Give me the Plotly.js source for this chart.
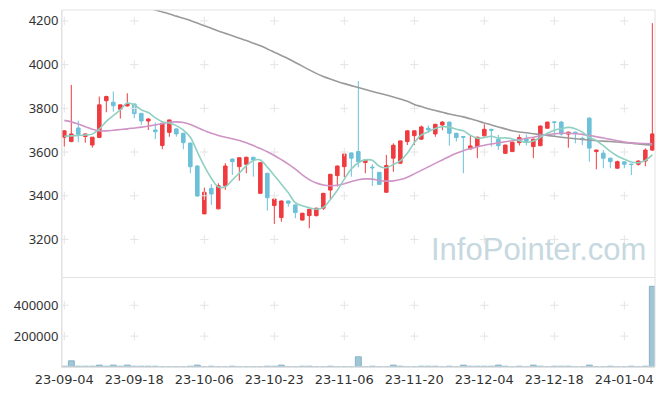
<!DOCTYPE html>
<html><head><meta charset="utf-8">
<script src="https://cdn.plot.ly/plotly-3.0.1.min.js"></script>
<style>html,body{margin:0;padding:0;background:#fff}#c{width:665px;height:396px}</style>
</head><body><div id="c"></div>
<script>
const dates = ["23-09-04","23-09-05","23-09-06","23-09-07","23-09-08","23-09-11","23-09-12","23-09-13","23-09-14","23-09-15",
"23-09-18","23-09-19","23-09-20","23-09-21","23-09-22","23-09-25","23-09-26","23-09-27","23-10-04","23-10-05",
"23-10-06","23-10-10","23-10-11","23-10-12","23-10-13","23-10-16","23-10-17","23-10-18","23-10-19","23-10-20",
"23-10-23","23-10-24","23-10-25","23-10-26","23-10-27","23-10-30","23-10-31","23-11-01","23-11-02","23-11-03",
"23-11-06","23-11-07","23-11-08","23-11-09","23-11-10","23-11-13","23-11-14","23-11-15","23-11-16","23-11-17",
"23-11-20","23-11-21","23-11-22","23-11-23","23-11-24","23-11-27","23-11-28","23-11-29","23-11-30","23-12-01",
"23-12-04","23-12-05","23-12-06","23-12-07","23-12-08","23-12-11","23-12-12","23-12-13","23-12-14","23-12-15",
"23-12-18","23-12-19","23-12-20","23-12-21","23-12-22","23-12-26","23-12-27","23-12-28","24-01-02","24-01-03",
"24-01-04","24-01-05","24-01-08","24-01-09","24-01-10"];

const openP  = [3668,3648,3710,3671,3632,3667,3835,3828,3796,3811,3820,3777,3742,3701,3630,3690,3706,3686,3641,3536,
3317,3434,3340,3446,3568,3533,3544,3576,3411,3503,3355,3300,3376,3358,3289,3309,3309,3343,3426,3492,
3533,3596,3602,3552,3531,3507,3416,3572,3549,3648,3675,3659,3709,3683,3724,3737,3686,3671,3614,3625,
3674,3704,3659,3594,3602,3643,3663,3625,3629,3709,3738,3737,3682,3691,3663,3755,3602,3595,3572,3526,
3555,3545,3544,3559,3609];
const highP  = [3700,3907,3744,3683,3668,3854,3858,3877,3816,3869,3822,3779,3755,3735,3732,3747,3708,3688,3643,3540,
3437,3453,3457,3549,3570,3576,3579,3578,3555,3505,3387,3378,3378,3360,3322,3340,3345,3413,3500,3538,
3593,3598,3925,3566,3544,3509,3587,3640,3652,3699,3699,3721,3721,3729,3742,3739,3688,3674,3674,3670,
3727,3706,3678,3634,3647,3680,3680,3661,3721,3739,3742,3742,3693,3693,3670,3760,3611,3609,3574,3561,
3557,3546,3561,3617,4190];
const lowP   = [3625,3645,3645,3643,3620,3665,3782,3785,3753,3808,3755,3725,3701,3659,3613,3670,3670,3613,3503,3395,
3317,3358,3338,3427,3495,3469,3503,3487,3411,3332,3271,3281,3350,3297,3286,3251,3305,3335,3385,3442,
3485,3487,3530,3503,3445,3452,3414,3510,3547,3632,3632,3655,3688,3670,3700,3629,3648,3503,3612,3572,
3672,3625,3610,3592,3600,3630,3630,3572,3627,3707,3668,3675,3620,3640,3632,3556,3521,3526,3526,3524,
3526,3495,3538,3535,3605];
const closeP = [3697,3683,3681,3683,3668,3816,3854,3812,3816,3820,3776,3742,3751,3693,3732,3747,3683,3643,3533,3399,
3416,3408,3446,3536,3556,3574,3576,3564,3551,3391,3385,3376,3366,3323,3320,3338,3343,3411,3498,3536,
3591,3572,3556,3564,3528,3452,3538,3631,3651,3697,3697,3715,3702,3727,3737,3686,3666,3668,3628,3668,
3704,3700,3629,3632,3645,3666,3648,3659,3719,3737,3736,3682,3691,3686,3659,3618,3609,3572,3556,3556,
3544,3543,3559,3609,3683];

const volume = [5000,40000,5000,5000,5000,12000,5000,12000,5000,12000,5000,5000,5000,5000,1000,1000,1000,1000,5000,12000,
1000,5000,1000,1000,5000,1000,1000,1000,1000,5000,5000,12000,1000,1000,5000,5000,1000,1000,5000,1000,
1000,1000,66000,1000,5000,1000,1000,12000,5000,1000,1000,5000,5000,5000,1000,5000,1000,12000,5000,5000,
5000,5000,12000,5000,1000,5000,1000,12000,5000,1000,5000,5000,5000,1000,1000,12000,1000,1000,5000,1000,
1000,5000,1000,5000,523000];

const ma5 = [3672,3674,3676,3678,3682,3706,3740,3767,3793,3824,3816,3793,3781,3756,3739,3733,3721,3700,3668,3601,
3535,3480,3440,3441,3472,3504,3537,3561,3564,3531,3493,3453,3414,3368,3354,3345,3338,3347,3382,3425,
3476,3522,3551,3564,3562,3535,3528,3543,3560,3594,3643,3678,3693,3708,3716,3714,3704,3697,3677,3663,
3667,3672,3664,3665,3660,3652,3644,3650,3667,3686,3700,3707,3713,3707,3691,3667,3653,3629,3603,3582,
3567,3554,3551,3562,3587];

const ma20 = [3745,3738,3728,3716,3704,3697,3697,3700,3703,3706,3710,3714,3719,3724,3730,3736,3738,3735,3726,3712,
3698,3686,3676,3668,3661,3653,3643,3630,3616,3601,3584,3565,3545,3522,3496,3474,3458,3449,3446,3448,
3455,3465,3473,3477,3476,3470,3467,3468,3474,3485,3500,3516,3532,3548,3564,3580,3594,3606,3616,3624,
3631,3637,3642,3647,3652,3657,3662,3668,3674,3680,3684,3686,3686,3684,3681,3676,3670,3664,3658,3652,
3646,3642,3640,3639,3638];

const ma120 = [null,null,null,null,null,null,null,null,null,null,null,null,4262,4250,4241,4232,4222,4212,4202,4190,
4178,4166,4154,4143,4132,4121,4110,4098,4086,4072,4057,4042,4027,4010,3993,3976,3960,3946,3934,3923,
3913,3904,3895,3886,3877,3869,3861,3852,3843,3832,3818,3808,3798,3790,3782,3774,3767,3761,3752,3743,
3733,3724,3715,3706,3697,3692,3688,3684,3680,3676,3672,3668,3664,3661,3658,3655,3652,3650,3648,3646,
3643,3640,3637,3634,3632];

const xTickDates = ["23-09-04","23-09-18","23-10-06","23-10-23","23-11-06","23-11-20","23-12-04","23-12-18","24-01-04"];
const priceTicks = [3200,3400,3600,3800,4000,4200];
const volTicks = [200000,400000];

const RED = '#ef3b3f', BLUE = '#6cc0d9';

// grid "+" markers at tick intersections
const gx = [], gy = [], vx = [], vy = [];
xTickDates.forEach(d => { priceTicks.forEach(p => { gx.push(d); gy.push(p); }); volTicks.forEach(v => { vx.push(d); vy.push(v); }); });

const traces = [
  {type:'bar', x:dates, y:volume, xaxis:'x', yaxis:'y2', width:0.85, showlegend:false,
   marker:{color:'#a0c6d6', line:{color:'#86b2c6', width:1}}},
  {type:'scatter', mode:'markers', x:gx, y:gy, xaxis:'x', yaxis:'y', hoverinfo:'skip', showlegend:false,
   marker:{symbol:'cross-thin', size:6, line:{color:'#e4e4e4', width:1}}},
  {type:'scatter', mode:'markers', x:vx, y:vy, xaxis:'x', yaxis:'y2', hoverinfo:'skip', showlegend:false,
   marker:{symbol:'cross-thin', size:6, line:{color:'#e4e4e4', width:1}}},
  {type:'scatter', mode:'lines', x:dates, y:ma120, line:{color:'#9a9a9a', width:1.6, shape:'spline'}, showlegend:false, hoverinfo:'skip'},
  {type:'scatter', mode:'lines', x:dates, y:ma20, line:{color:'#cf93c5', width:1.6, shape:'spline'}, showlegend:false, hoverinfo:'skip'},
  {type:'scatter', mode:'lines', x:dates, y:ma5, line:{color:'#8fd0c2', width:1.6, shape:'spline'}, showlegend:false, hoverinfo:'skip'},
  {type:'candlestick', x:dates, open:openP, high:highP, low:lowP, close:closeP, xaxis:'x', yaxis:'y',
   increasing:{line:{color:RED, width:1}, fillcolor:RED},
   decreasing:{line:{color:BLUE, width:1}, fillcolor:BLUE},
   whiskerwidth:0, showlegend:false}
];

const yfnt = {family:'Noto Sans, DejaVu Sans, sans-serif', size:13, color:'#333'};
const xfnt = {family:'DejaVu Sans, sans-serif', size:13, color:'#333'};
const layout = {
  width:665, height:396,
  margin:{l:62, r:10, t:10, b:29},
  paper_bgcolor:'#fff', plot_bgcolor:'#fff',
  showlegend:false, hovermode:false,
  boxgap:0.28,
  xaxis:{type:'category', categoryorder:'array', categoryarray:dates, anchor:'y2', range:[-0.33, 84.38],
    tickvals:xTickDates, ticktext:xTickDates, tickangle:0,
    showgrid:false, zeroline:false, showline:true, linecolor:'#e2e2e2', ticks:'', tickfont:xfnt,
    rangeslider:{visible:false}},
  yaxis:{domain:[0.252,1], range:[3028,4250], tickvals:priceTicks, showgrid:false, zeroline:false,
    showline:true, linecolor:'#e2e2e2', ticks:'', tickfont:yfnt},
  yaxis2:{domain:[0,0.249], range:[0,576000], tickvals:volTicks, tickformat:'d', showgrid:false, zeroline:false,
    showline:true, linecolor:'#e2e2e2', ticks:'', tickfont:yfnt},
  shapes:[
    {type:'rect', xref:'paper', yref:'paper', x0:0, x1:1, y0:0, y1:1, line:{color:'#e2e2e2', width:1}},
    {type:'line', xref:'paper', yref:'paper', x0:0, x1:1, y0:0.2505, y1:0.2505, line:{color:'#e2e2e2', width:1}}
  ],
  annotations:[{xref:'paper', yref:'paper', x:0.988, y:0.275, xanchor:'right', yanchor:'bottom', showarrow:false,
    text:'InfoPointer.com', font:{family:'Liberation Sans, Arial, sans-serif', size:31, color:'#c6d8e0'}}]
};
Plotly.newPlot('c', traces, layout, {staticPlot:true, displayModeBar:false});
</script></body></html>
